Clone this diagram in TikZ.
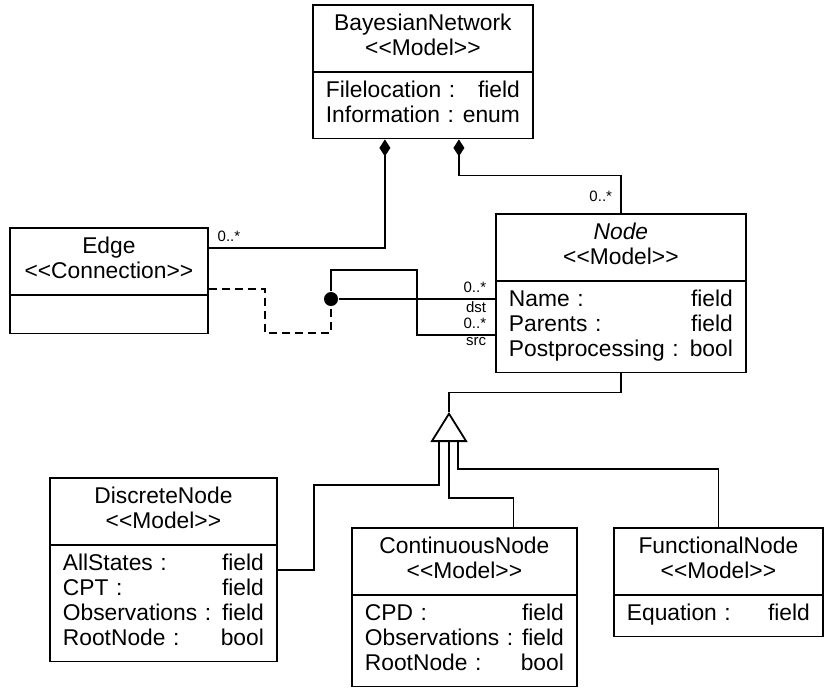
\documentclass[tikz,border=0pt]{standalone}
\usepackage{fontspec}
\setmainfont{Liberation Sans}
\usepackage{tikz}
\usetikzlibrary{shapes.multipart,arrows.meta}

\newcommand{\head}[2]{\strut#1\\\strut\mbox{<}\mbox{<}#2\mbox{>}\mbox{>}}
\newcommand{\attr}[2]{\makebox[\linewidth]{\strut#1\hfill#2}}

\begin{document}
\begin{tikzpicture}[x=1pt,y=-1pt,line width=1.8pt,
    font=\fontsize{22.8}{25}\selectfont,
    umlclass/.style={rectangle split, rectangle split parts=2, draw, text width=#1,
      inner xsep=13pt, inner ysep=7.5pt, align=center, anchor=north west},
    mult/.style={font=\fontsize{15}{15}\selectfont, inner xsep=8pt, inner ysep=2pt},
    multup/.style={mult, yshift=3pt},
    comp/.style={arrows={Diamond[length=17pt,width=11pt]-}},
    gen/.style={arrows={-Triangle[open,length=30pt,width=37pt]}}]
      \useasboundingbox (0,0) rectangle (829,689);
      \node (bnet) [umlclass=194pt] at (312,4) {
      \head{BayesianNetwork}{Model}
      \nodepart{two}\attr{Filelocation :}{field}\\\attr{Information :}{enum}
      };
      \node (conn) [umlclass=172pt] at (9,227) {
      \head{Edge}{Connection}
      \nodepart{two}\rule{0pt}{22pt}
      };
      \node (bnode) [umlclass=224pt] at (495,213) {
      \head{\textit{Node}}{Model}
      \nodepart{two}\attr{Name :}{field}\\\attr{Parents :}{field}\\\attr{Postprocessing :}{bool}
      };
      \node (disc) [umlclass=201pt] at (49,477) {
      \head{DiscreteNode}{Model}
      \nodepart{two}\attr{AllStates :}{field}\\\attr{CPT :}{field}\\\attr{Observations :}{field}\\\attr{RootNode :}{bool}
      };
      \node (cont) [umlclass=199pt] at (351,527) {
      \head{ContinuousNode}{Model}
      \nodepart{two}\attr{CPD :}{field}\\\attr{Observations :}{field}\\\attr{RootNode :}{bool}
      };
      \node (func) [umlclass=183pt] at (613,527) {
      \head{FunctionalNode}{Model}
      \nodepart{two}\attr{Equation :}{field}
      };
      \draw[comp] ([xshift=-38pt]bnet.south) |- (conn.east |- 0,248) node[multup, above right] {0..*};
      \draw[comp] ([xshift=36pt]bnet.south) -- ++(0,36) -| (bnode.north) node[multup, above left, yshift=5pt] {0..*};
      \node (junc) [circle, fill, inner sep=0pt, minimum size=14pt] at (331,299) {};
      \draw (junc) -- (bnode.west |- junc) node[multup, above left] {0..*} node[mult, below left] {dst};
      \draw (junc) |- (417,270) |- (bnode.west |- 0,335) node[multup, above left] {0..*} node[mult, below left] {src};
      \draw[dash pattern=on 8pt off 5pt] (conn.east |- 0,289) -| (265,333) -| (junc);
      \coordinate (apex) at (449,412);
      \coordinate (base) at (449,442);
      \draw[gen] (base) -- (apex);
      \draw (bnode.south) -- ++(0,19) -| (apex);
      \draw ([xshift=-10pt]base) -- ++(0,43) -| ([xshift=36pt]disc.east) -- (disc.east);
      \draw (base) -- ++(0,56) -| ([xshift=49pt]cont.north);
      \draw ([xshift=9pt]base) -- ++(0,27) -| (func.north);
    \end{tikzpicture}
\end{document}
